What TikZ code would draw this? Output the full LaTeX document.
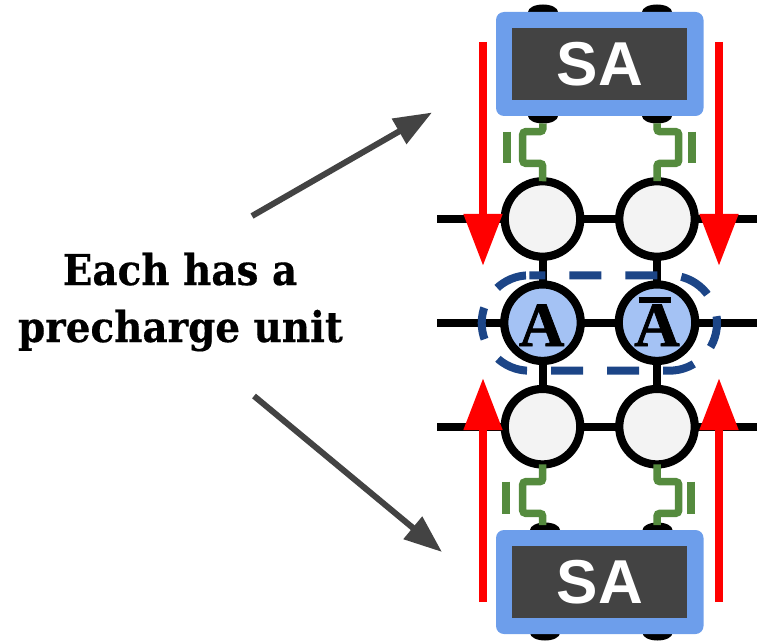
\documentclass[tikz,border=0pt]{standalone}
\usepackage{fontspec}
\setmainfont{DejaVu Serif}[BoldFeatures={FakeBold=0.4}]
\newfontfamily\sansb{Liberation Sans}[BoldFont={* Bold}]
\newfontfamily\serifb{Liberation Serif Bold}[FakeBold=1.2]
\usetikzlibrary{arrows.meta,shapes.geometric}
\definecolor{redarrow}{HTML}{FF0000}
\definecolor{sablue}{HTML}{6D9EEB}
\definecolor{sadark}{HTML}{434343}
\definecolor{cellgray}{HTML}{F3F3F3}
\definecolor{cellblue}{HTML}{A4C2F4}
\definecolor{greenline}{HTML}{558B3E}
\definecolor{dashblue}{HTML}{1C4587}
\tikzset{
  wire/.style={black,line width=8pt},
  cell/.style={circle,draw=black,line width=8.2pt,fill=cellgray,minimum size=75.5pt,inner sep=0pt,outer sep=0pt},
  acell/.style={cell,fill=cellblue,minimum size=76.5pt},
  samp/.style={fill=sadark,minimum width=175.5pt,minimum height=72pt,inner sep=0pt,outer sep=0pt,
     text=white,font=\sansb\bfseries\fontsize{62}{62}\selectfont},
  sarim/.style={fill=sablue,rounded corners=8pt},
  knob/.style={ellipse,fill=black,minimum width=30pt,minimum height=15pt,inner sep=0pt,outer sep=0pt},
  bus/.style={redarrow,line width=8pt,-{Triangle[length=52pt,width=37pt]}},
  gate/.style={greenline,line width=7.5pt,rounded corners=3pt},
  gbar/.style={greenline,line width=8pt},
  callout/.style={sadark,line width=6pt,-{Triangle[length=38pt,width=28pt]}},
  cname/.style={inner sep=0pt,outer sep=0pt,font=\serifb\fontsize{63}{63}\selectfont,anchor=base},
  bigtext/.style={inner sep=0pt,outer sep=0pt,anchor=base},
}
\begin{document}
\begin{tikzpicture}[x=1pt,y=-1pt]
\useasboundingbox (0,0) rectangle (759,644);
% word wires
\foreach \y/\n in {219/a,322.7/b,426.7/c}{
  \coordinate (l\n) at (437,\y);
  \coordinate (r\n) at (757,\y);
  \draw[wire] (l\n) -- (r\n);
}
% knobs
\node[knob] (k1) at (543,12) {};
\node[knob] (k2) at (657,12) {};
\node[knob] (k3) at (543,116) {};
\node[knob] (k4) at (657,116) {};
\node[knob] (k5) at (545,530) {};
\node[knob] (k6) at (657.5,530) {};
\node[knob] (k7) at (545,633) {};
\node[knob] (k8) at (657.5,633) {};
% cells
\node[cell] (c11) at (542.5,219) {};
\node[cell] (c12) at (657,219) {};
\node[acell] (c21) at (542.5,322.7) {};
\node[acell] (c22) at (657,322.7) {};
\node[cell] (c31) at (542.5,426.7) {};
\node[cell] (c32) at (657,426.7) {};
\draw[wire] (c11) -- (c21);
\draw[wire] (c12) -- (c22);
\draw[wire] (c21) -- (c31);
\draw[wire] (c22) -- (c32);
% labels in cells
\node[cname] (la) at (541.7,346) {A};
\node[cname] (lb) at (657,346) {A};
\draw[black,line width=6pt] (638.7,299.5) -- (671,299.5);
% dashed group
\draw[dashblue,line width=8pt,dash pattern=on 32pt off 24pt,dash phase=16pt]
  (529.4,275.3) -- (669.3,275.3) arc[start angle=90,end angle=0,radius=47.7pt]
  arc[start angle=0,end angle=-90,radius=47.7pt] -- (529.4,370.7)
  arc[start angle=-90,end angle=-180,radius=47.7pt]
  arc[start angle=180,end angle=90,radius=47.7pt];
% sense amps
\fill[sarim] (496,12) rectangle (703.5,116);
\fill[sarim] (496,530) rectangle (703.5,634);
\node[samp] (sa1) at (599.7,64) {SA};
\node[samp] (sa2) at (599.7,582) {SA};
% transistors
\draw[gate] (k3.south) -- (542.7,131.7) -- (522.7,131.7) -- (522.7,163.3) -- (542.7,163.3) -- (c11);
\draw[gate] (k4.south) -- (657,131.7) -- (678.7,131.7) -- (678.7,163.3) -- (657,163.3) -- (c12);
\draw[gate] (c31) -- (542.7,481.7) -- (522.7,481.7) -- (522.7,513.3) -- (542.7,513.3) -- (542.7,525);
\draw[gate] (c32) -- (657,481.7) -- (678.7,481.7) -- (678.7,513.3) -- (657,513.3) -- (657,525);
\coordinate (g1a) at (507,131.7); \coordinate (g1b) at (507,163.3);
\coordinate (g2a) at (692,131.7); \coordinate (g2b) at (692,163.3);
\coordinate (g3a) at (506,481.7); \coordinate (g3b) at (506,514);
\coordinate (g4a) at (691,481.7); \coordinate (g4b) at (691,514);
\draw[gbar] (g1a) -- (g1b);
\draw[gbar] (g2a) -- (g2b);
\draw[gbar] (g3a) -- (g3b);
\draw[gbar] (g4a) -- (g4b);
% red arrows
\coordinate (ra1) at (483,42);  \coordinate (ra2) at (483,266);
\coordinate (rb1) at (719,42);  \coordinate (rb2) at (719,266);
\coordinate (rc1) at (483,602); \coordinate (rc2) at (483,378);
\coordinate (rd1) at (719,602); \coordinate (rd2) at (719,378);
\draw[bus] (ra1) -- (ra2);
\draw[bus] (rb1) -- (rb2);
\draw[bus] (rc1) -- (rc2);
\draw[bus] (rd1) -- (rd2);
% callout
\node[bigtext] (t1) at (180,285) {\scalebox{.915}[1]{\bfseries\fontsize{42.5}{42.5}\selectfont Each has a}};
\node[bigtext] (t2) at (180.5,342) {\scalebox{.915}[1]{\bfseries\fontsize{42.5}{42.5}\selectfont precharge unit}};
\coordinate (p1) at (252,216); \coordinate (p2) at (432,112.5);
\coordinate (q1) at (254,396); \coordinate (q2) at (442,552);
\draw[callout] (p1) -- (p2);
\draw[callout] (q1) -- (q2);
\end{tikzpicture}
\end{document}
